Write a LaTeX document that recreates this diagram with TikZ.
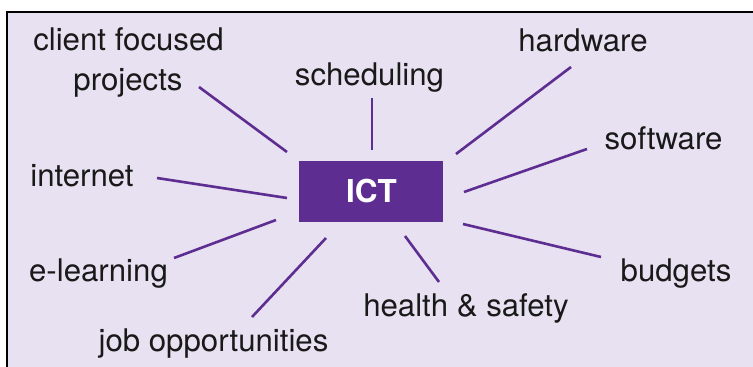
\documentclass[tikz,border=0pt]{standalone}
\usepackage{fontspec}
\setmainfont{TeX Gyre Heros}
\definecolor{bgl}{HTML}{E7E1F1}
\definecolor{ictp}{HTML}{5E2D91}
\definecolor{linep}{HTML}{5E2D91}
\begin{document}
\begin{tikzpicture}[x=1pt,y=-1pt,
  lbl/.style={anchor=base,inner sep=0pt,font=\fontsize{31.2}{36}\selectfont,text=black!90},
  spoke/.style={draw=linep,line width=2.6pt}]
\useasboundingbox (0,0) rectangle (753,367);
\clip (0,0) rectangle (753,367);
\filldraw[fill=bgl,draw=black,line width=2.2pt] (7,12) rectangle (800,420);
\node[fill=ictp,minimum width=144pt,minimum height=61pt,inner sep=0pt] (ict) at (371,191.5) {};
\node[anchor=base,inner sep=0pt,text=white,font=\fontsize{31.5}{36}\selectfont\bfseries] (ictt) at (371.5,202) {ICT};
\node[lbl] (cf1) at (128.5,50.7) {client focused};
\node[lbl] (cf2) at (128,90) {projects};
\node[lbl] (sch) at (369.5,85) {scheduling};
\node[lbl] (hw) at (583,51.7) {hardware};
\node[lbl] (sw) at (663.5,149.3) {software};
\node[lbl] (inet) at (82,186) {internet};
\node[lbl] (el) at (98.5,281) {e-learning};
\node[lbl] (job) at (213.5,351) {job opportunities};
\node[lbl] (hs) at (466,316) {health \& safety};
\node[lbl] (bud) at (676,281) {budgets};
\coordinate (a1) at (199,87);  \coordinate (a2) at (287,152);
\coordinate (b1) at (372,98);  \coordinate (b2) at (372,150);
\coordinate (c1) at (571,67);  \coordinate (c2) at (456,154);
\coordinate (d1) at (587,149); \coordinate (d2) at (464,192);
\coordinate (e1) at (157,178); \coordinate (e2) at (287,198);
\coordinate (f1) at (174,258); \coordinate (f2) at (276,220);
\coordinate (g1) at (252,317); \coordinate (g2) at (326,238);
\coordinate (h1) at (439,282); \coordinate (h2) at (405,236);
\coordinate (i1) at (601,257); \coordinate (i2) at (463,224);
\draw[spoke] (a1) -- (a2);
\draw[spoke] (b1) -- (b2);
\draw[spoke] (c1) -- (c2);
\draw[spoke] (d1) -- (d2);
\draw[spoke] (e1) -- (e2);
\draw[spoke] (f1) -- (f2);
\draw[spoke] (g1) -- (g2);
\draw[spoke] (h1) -- (h2);
\draw[spoke] (i1) -- (i2);
\end{tikzpicture}
\end{document}
